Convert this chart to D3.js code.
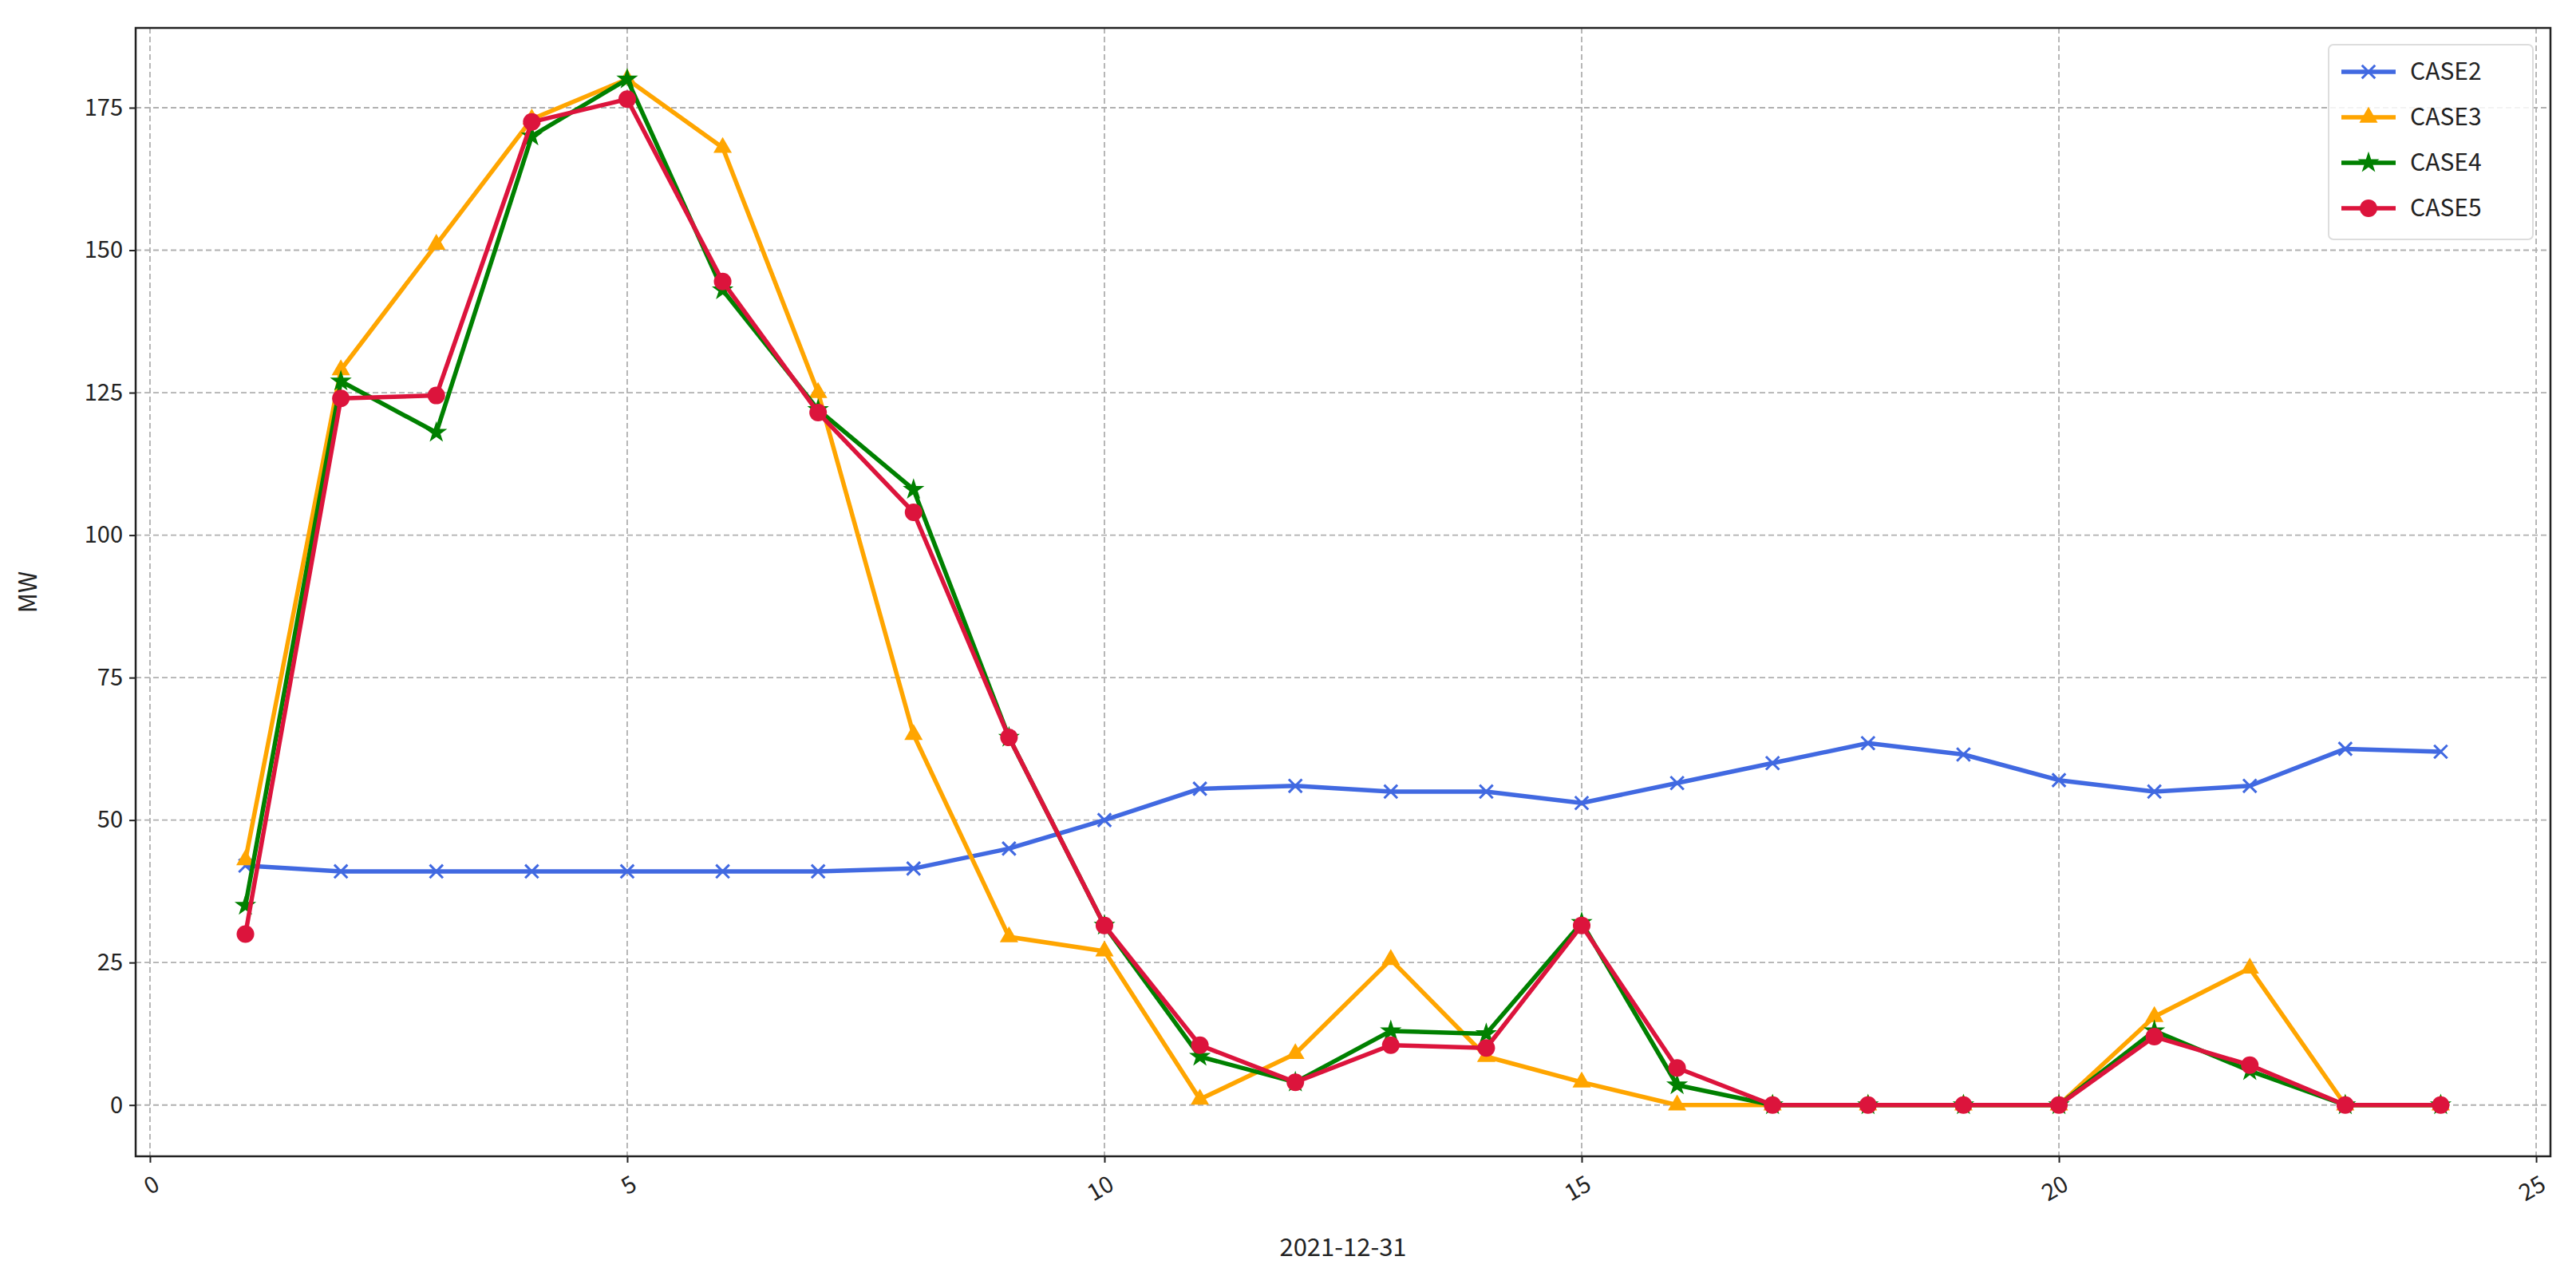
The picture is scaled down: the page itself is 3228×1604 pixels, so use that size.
<!DOCTYPE html>
<html>
<head>
<meta charset="utf-8">
<script src="https://cdn.jsdelivr.net/npm/d3@7"></script>
<style>
  body { margin: 0; background: #fff; }
  text { font-family: "Noto Sans CJK SC", "Noto Sans", sans-serif; fill: #222; }
</style>
</head>
<body>
<div id="vis"></div>
<script>
// data
const hours = d3.range(1, 25);
const case2 = [42,41,41,41,41,41,41,41.5,45,50,55.5,56,55,55,53,56.5,60,63.5,61.5,57,55,56,62.5,62];
const case3 = [43,129,151,173,180,168,125,65,29.5,27,1,9,25.5,8.5,4,0,0,0,0,0,15.5,24,0,0];
const case4 = [35,127,118,170,180,143,122,108,64.5,31.5,8.5,4,13,12.5,32,3.5,0,0,0,0,13,6,0,0];
const case5 = [30,124,124.5,172.5,176.5,144.5,121.5,104,64.5,31.5,10.5,4,10.5,10,31.5,6.5,0,0,0,0,12,7,0,0];
const names = ["CASE2", "CASE3", "CASE4", "CASE5"];
const colors = ["#4169e1", "#ffa500", "#008000", "#dc143c"];
const symbols = ["x", "tri", "star", "circle"];
const xTicks = [0, 5, 10, 15, 20, 25];
const yTicks = [0, 25, 50, 75, 100, 125, 150, 175];

const W = 3228, H = 1604;
const margin = {top: 35, left: 170, right: 32, bottom: 155};

let svg = d3.select('#vis').append('svg')
  .attr('width', W).attr('height', H);

let x = d3.scaleLinear().domain([-0.15, 25.15]).range([margin.left, W - margin.right]);
let y = d3.scaleLinear().domain([-9, 189]).range([H - margin.bottom, margin.top]);

// grid
svg.append('g').selectAll('line').data(xTicks).join('line')
  .attr('x1', d => x(d)).attr('x2', d => x(d))
  .attr('y1', margin.top).attr('y2', H - margin.bottom)
  .attr('stroke', '#b0b0b0').attr('stroke-width', 1.8).attr('stroke-dasharray', '7,4');
svg.append('g').selectAll('line').data(yTicks).join('line')
  .attr('x1', margin.left).attr('x2', W - margin.right)
  .attr('y1', d => y(d)).attr('y2', d => y(d))
  .attr('stroke', '#b0b0b0').attr('stroke-width', 1.8).attr('stroke-dasharray', '7,4');

// axes
let xAxis = svg.append('g')
  .attr('transform', `translate(0, ${H - margin.bottom})`)
  .call(d3.axisBottom(x).tickValues(xTicks).tickSize(8).tickPadding(8));
xAxis.selectAll('text')
  .attr('font-size', 29)
  .attr('text-anchor', 'end')
  .attr('transform', 'rotate(-30)')
  .attr('dx', '-0.3em').attr('dy', '0.9em');

let yAxis = svg.append('g')
  .attr('transform', `translate(${margin.left}, 0)`)
  .call(d3.axisLeft(y).tickValues(yTicks).tickSize(8).tickPadding(8));
yAxis.selectAll('text').attr('font-size', 29);

[xAxis, yAxis].forEach(a => {
  a.select('.domain').remove();
  a.selectAll('line').attr('stroke', '#222').attr('stroke-width', 2);
});

// frame
svg.append('rect')
  .attr('x', margin.left).attr('y', margin.top)
  .attr('width', W - margin.left - margin.right)
  .attr('height', H - margin.top - margin.bottom)
  .attr('fill', 'none').attr('stroke', '#222').attr('stroke-width', 2.5);

// labels
svg.append('text').attr('x', (x(0) + x(25)) / 2).attr('y', H - 30)
  .attr('text-anchor', 'middle').attr('font-size', 31).text('2021-12-31');
svg.append('text').attr('transform', `translate(46, ${(margin.top + H - margin.bottom) / 2}) rotate(-90)`)
  .attr('text-anchor', 'middle').attr('font-size', 31).text('MW');

// markers
function marker(g, kind, color, cx, cy) {
  if (kind === 'circle') {
    g.append('circle').attr('cx', cx).attr('cy', cy).attr('r', 11).attr('fill', color);
  } else if (kind === 'tri') {
    g.append('path').attr('d', d3.symbol(d3.symbolTriangle, 230)()).attr('transform', `translate(${cx},${cy})`).attr('fill', color);
  } else if (kind === 'star') {
    g.append('path').attr('d', d3.symbol(d3.symbolStar, 230)()).attr('transform', `translate(${cx},${cy})`).attr('fill', color);
  } else {
    g.append('path').attr('d', d3.symbol(d3.symbolTimes, 180)()).attr('transform', `translate(${cx},${cy})`)
      .attr('fill', 'none').attr('stroke', color).attr('stroke-width', 3);
  }
}

let series = [case2, case3, case4, case5];
let line = d3.line().x((d, i) => x(hours[i])).y(d => y(d));
series.forEach((vals, k) => {
  let g = svg.append('g');
  g.append('path').datum(vals).attr('d', line)
    .attr('fill', 'none').attr('stroke', colors[k]).attr('stroke-width', 5.5).attr('stroke-linejoin', 'round');
  vals.forEach((v, i) => marker(g, symbols[k], colors[k], x(hours[i]), y(v)));
});

// legend
let lg = svg.append('g').attr('transform', 'translate(2918, 56)');
lg.append('rect').attr('width', 256).attr('height', 244).attr('rx', 6)
  .attr('fill', 'white').attr('fill-opacity', 0.85).attr('stroke', '#ddd').attr('stroke-width', 2);
names.forEach((n, k) => {
  let yy = 34 + k * 57;
  lg.append('line').attr('x1', 16).attr('x2', 84).attr('y1', yy).attr('y2', yy)
    .attr('stroke', colors[k]).attr('stroke-width', 5.5);
  marker(lg, symbols[k], colors[k], 50, yy);
  lg.append('text').attr('x', 102).attr('y', yy + 10).attr('font-size', 30).text(n);
});
</script>
</body>
</html>
